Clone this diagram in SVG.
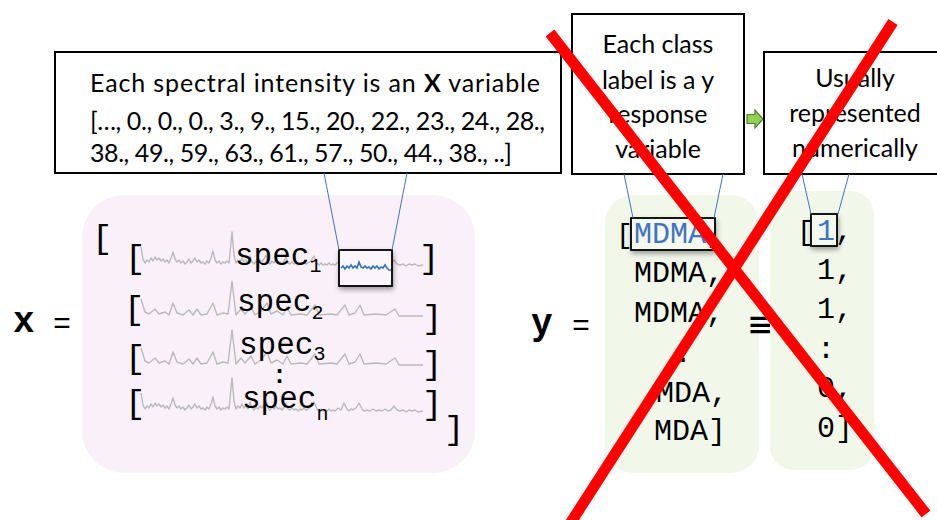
<svg xmlns="http://www.w3.org/2000/svg" xmlns:xlink="http://www.w3.org/1999/xlink" width="937" height="520" viewBox="0 0 937 520">
<style>
.box{fill:#fff;stroke:#000;stroke-width:2}
.cal{font-family:Lato,"Open Sans","Liberation Sans",sans-serif;font-size:25px;fill:#000}
.mono{font-family:"Liberation Mono","Courier New",monospace;fill:#000}
.spec{fill:none;stroke:#bababa;stroke-width:1.4;stroke-linejoin:round}
.lead{stroke:#4472c4;stroke-width:1;fill:none}
.red{stroke:#ff0000;stroke-width:11;fill:none}
</style>
<defs>
<filter id="sh" x="-30%" y="-30%" width="160%" height="160%">
<feDropShadow dx="1" dy="3" stdDeviation="2.5" flood-color="#000" flood-opacity="0.35"/>
</filter>
<path id="specS" d="M0,-18 L4,-5 L8,-3 L14,-8 L18,-3 L24,-5 L28,-2 L32,-14 L36,-4 L42,-2 L48,-7 L52,-2 L56,-8 L60,-2 L66,-3 L72,-14 L76,-2 L82,-4 L87,-3 L91,-36 L95,-2 L100,-8 L104,-3 L110,-10 L114,-2 L120,-6 L126,-14 L130,-3 L136,-6 L142,-2 L146,-10 L150,-2 L160,-3 L166,-2 L174,-12 L178,-2 L190,-3 L196,-2 L204,-12 L208,-2 L214,-4 L219,-12 L223,-2 L235,-3 L245,-2 L254,-8 L258,-1 L282,-1"/>
<path id="specN" d="M0,-20 L2,-8 L4,-4 L6,-7 L8,-5 L10,-9 L12,-6 L14,-10 L16,-7 L18,-9 L20,-6 L22,-8 L24,-5 L26,-7 L28,-4 L30,-9 L32,-15 L34,-8 L36,-5 L38,-7 L40,-4 L42,-6 L44,-3 L46,-5 L48,-8 L50,-4 L52,-6 L54,-9 L56,-5 L58,-7 L60,-4 L62,-5 L64,-3 L66,-6 L68,-4 L70,-9 L72,-16 L74,-7 L76,-4 L78,-6 L80,-3 L82,-5 L84,-4 L86,-6 L88,-4 L91,-35 L93,-12 L95,-4 L97,-7 L99,-5 L101,-9 L103,-5 L105,-7 L107,-4 L109,-11 L111,-5 L113,-3 L115,-6 L117,-4 L119,-7 L121,-5 L123,-8 L125,-12 L127,-5 L129,-3 L131,-6 L133,-4 L135,-7 L137,-4 L139,-5 L141,-3 L143,-6 L145,-10 L147,-4 L149,-3 L151,-5 L153,-3 L155,-4 L157,-2 L159,-4 L161,-3 L163,-5 L165,-3 L167,-4 L170,-6 L173,-11 L176,-4 L178,-2 L180,-4 L182,-2 L184,-3 L186,-2 L188,-4 L190,-2 L192,-3 L194,-2 L197,-5 L200,-3 L203,-10 L206,-4 L208,-2 L210,-4 L212,-3 L215,-5 L218,-10 L221,-4 L223,-2 L226,-3 L229,-2 L232,-4 L235,-2 L238,-3 L241,-2 L244,-4 L247,-2 L250,-3 L253,-7 L256,-3 L259,-2 L262,-3 L265,-1 L268,-3 L271,-2 L274,-3 L277,-1 L282,-2"/>
</defs>
<rect width="937" height="520" fill="#fff"/>

<!-- X matrix panel -->
<g id="x-matrix">
<text class="mono" x="13" y="332" font-size="36" font-weight="bold">x</text>
<text class="mono" x="53" y="333" font-size="30">=</text>
<rect x="82" y="195" width="393" height="278" rx="42" fill="#faf0fa"/>
<text class="mono" x="92" y="248" font-size="34">[</text>
<text class="mono" x="444" y="439" font-size="34">]</text>
<text class="mono" x="125" y="268" font-size="34">[</text>
<text class="mono" x="419" y="268" font-size="34">]</text>
<text class="mono" x="124" y="319" font-size="34">[</text>
<text class="mono" x="422" y="328" font-size="34">]</text>
<text class="mono" x="125" y="368" font-size="34">[</text>
<text class="mono" x="422" y="374" font-size="34">]</text>
<text class="mono" x="125" y="413" font-size="34">[</text>
<text class="mono" x="422" y="414" font-size="34">]</text>
<use xlink:href="#specN" x="141" y="267" class="spec"/>
<use xlink:href="#specS" x="141" y="317" class="spec"/>
<use xlink:href="#specS" x="141" y="366" class="spec"/>
<use xlink:href="#specN" x="141" y="413" class="spec"/>
<text class="mono" x="235" y="265" font-size="31">spec<tspan font-size="20" dy="7">1</tspan></text>
<text class="mono" x="237" y="311" font-size="31">spec<tspan font-size="20" dy="8">2</tspan></text>
<text class="mono" x="239" y="354" font-size="31">spec<tspan font-size="20" dy="6">3</tspan></text>
<text class="mono" x="272" y="383" font-size="25" font-weight="bold">:</text>
<text class="mono" x="242" y="408" font-size="31">spec<tspan font-size="20" dy="12">n</tspan></text>
<rect x="339" y="250" width="53" height="36" fill="#fbf5fb" stroke="#000" stroke-width="1.8" filter="url(#sh)"/>
<path d="M341,268 L343,266 L345,269 L347,266 L349,268 L351,265 L353,268 L355,266 L357,268 L359,262 L361,267 L363,268 L365,266 L367,268 L369,267 L371,269 L373,266 L375,268 L377,266 L379,269 L381,267 L383,268 L385,265 L387,268 L389,270 L391,270" fill="none" stroke="#2e75b6" stroke-width="1.6"/>
</g>

<!-- y vector panels -->
<g id="y-vector">
<text class="mono" x="531" y="334" font-size="36" font-weight="bold">y</text>
<text class="mono" x="572" y="335" font-size="30">=</text>
<rect x="605" y="195" width="154" height="278" rx="28" fill="#f1f8ea"/>
<text class="mono" x="616" y="243" font-size="28">[</text>
<rect x="631" y="218" width="84" height="32" fill="#f3f9ee" stroke="#000" stroke-width="1.8" filter="url(#sh)"/>
<text class="mono" x="634" y="243" font-size="30" style="fill:#4472c4">MDMA</text>
<text class="mono" x="706" y="243" font-size="30">,</text>
<text class="mono" x="634" y="282" font-size="30">MDMA,</text>
<text class="mono" x="634" y="322" font-size="30">MDMA,</text>
<text class="mono" x="674" y="362" font-size="30">:</text>
<text class="mono" x="656" y="402" font-size="30">MDA,</text>
<text class="mono" x="654" y="440" font-size="30">MDA]</text>
</g>

<g id="equiv">
<text x="749" y="337" font-family="DejaVu Sans Mono, monospace" font-size="38" fill="#000">≡</text>
</g>

<g id="y-numeric">
<rect x="770" y="191" width="104" height="279" rx="24" fill="#f1f8ea"/>
<text class="mono" x="797" y="240" font-size="28">[</text>
<rect x="811" y="214" width="26" height="32" fill="#f3f9ee" stroke="#000" stroke-width="1.8" filter="url(#sh)"/>
<text class="mono" x="817" y="240" font-size="30" style="fill:#4472c4">1</text>
<text class="mono" x="835" y="240" font-size="30">,</text>
<text class="mono" x="817" y="279" font-size="30">1,</text>
<text class="mono" x="817" y="318" font-size="30">1,</text>
<text class="mono" x="817" y="358" font-size="30">:</text>
<text class="mono" x="817" y="397" font-size="30">0,</text>
<text class="mono" x="817" y="437" font-size="30">0]</text>
</g>

<!-- callout boxes -->
<g id="box-x">
<rect class="box" x="55" y="52" width="506" height="121"/>
<text class="cal" x="90" y="92" textLength="450" lengthAdjust="spacing">Each spectral intensity is an <tspan font-weight="bold">X</tspan> variable</text>
<text class="cal" x="90" y="130" font-size="23" textLength="455" lengthAdjust="spacing">[…, 0., 0., 0., 3., 9., 15., 20., 22., 23., 24., 28.,</text>
<text class="cal" x="90" y="162" font-size="23" textLength="422" lengthAdjust="spacing">38., 49., 59., 63., 61., 57., 50., 44., 38., ..]</text>
</g>

<g id="box-y">
<rect class="box" x="572" y="14" width="172" height="160"/>
<text class="cal" x="658" y="53" text-anchor="middle">Each class</text>
<text class="cal" x="658" y="89" text-anchor="middle">label is a y</text>
<text class="cal" x="658" y="123" text-anchor="middle">response</text>
<text class="cal" x="658" y="158" text-anchor="middle">variable</text>
</g>

<g id="arrow">
<path d="M747,114.5 L755,114.5 L755,110 L763,119 L755,128 L755,123.5 L747,123.5 Z" fill="#92d050" stroke="#507e32" stroke-width="1.2"/>
</g>

<g id="box-num">
<rect class="box" x="764" y="52" width="182" height="122"/>
<text class="cal" x="855" y="87" text-anchor="middle">Usually</text>
<text class="cal" x="855" y="122" text-anchor="middle">represented</text>
<text class="cal" x="855" y="157" text-anchor="middle">numerically</text>
</g>

<g id="connectors">
<line class="lead" x1="324" y1="173" x2="339" y2="250"/>
<line class="lead" x1="407" y1="173" x2="392" y2="250"/>
<line class="lead" x1="624" y1="174" x2="633" y2="218"/>
<line class="lead" x1="723" y1="174" x2="714" y2="218"/>
<line class="lead" x1="802" y1="174" x2="811" y2="214"/>
<line class="lead" x1="849" y1="174" x2="838" y2="214"/>
</g>

<g id="red-x">
<line class="red" x1="550" y1="33" x2="926" y2="514"/>
<line class="red" x1="893" y1="22" x2="566" y2="530"/>
</g>
</svg>
